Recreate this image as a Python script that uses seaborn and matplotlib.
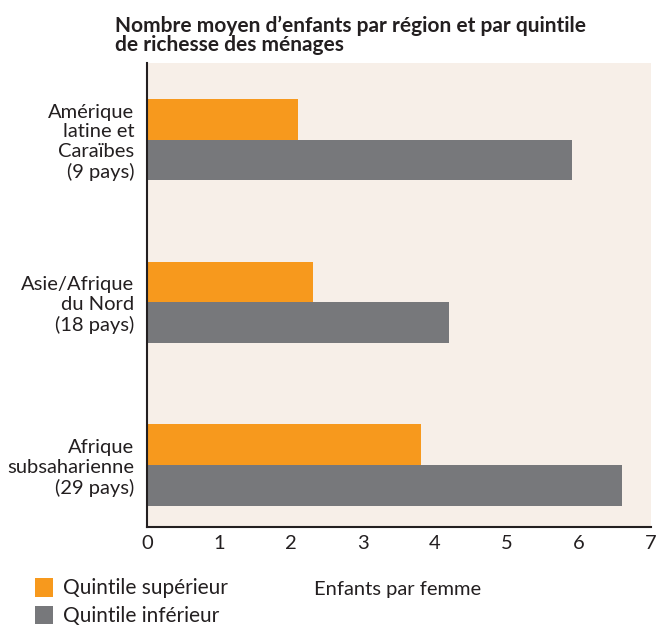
import numpy as np
import pandas as pd
import matplotlib.pyplot as plt
import seaborn as sns
from matplotlib.patches import Patch

regions = ['Amérique\nlatine et\nCaraïbes\n(9 pays)',
           'Asie/Afrique\ndu Nord\n(18 pays)',
           'Afrique\nsubsaharienne\n(29 pays)']
quintiles = ['Quintile supérieur', 'Quintile inférieur']
top_q = [2.1, 2.3, 3.8]
bottom_q = [5.9, 4.2, 6.6]
colors = ['#F7991D', '#77787B']

df = pd.DataFrame({
    'region': regions * 2,
    'quintile': [quintiles[0]] * 3 + [quintiles[1]] * 3,
    'value': top_q + bottom_q,
})

sns.set_style('white')
plt.rcParams['font.family'] = ['Lato', 'DejaVu Sans']

fig = plt.figure(figsize=(6.57, 6.29), dpi=100)
ax = fig.add_axes([147/657, 1 - 527/629, (651 - 147)/657, (527 - 63)/629])
ax.set_facecolor('#F7EFE8')

sns.barplot(data=df, y='region', x='value', hue='quintile', palette=colors,
            orient='h', width=0.5, saturation=1, linewidth=0, ax=ax, legend=False)

ax.set_xlim(0, 7)
ax.set_ylim(2.38, -0.47)
ax.set_xticks(range(8))
ax.set_ylabel('')
ax.set_xlabel('')
ax.tick_params(axis='x', length=0, labelsize=14.5, colors='#231F20', pad=6)
ax.tick_params(axis='y', length=0, labelsize=14.5, colors='#231F20', pad=9)
for lab in ax.get_yticklabels():
    lab.set_horizontalalignment('right')
    lab.set_multialignment('right')
for s in ['top', 'right']:
    ax.spines[s].set_visible(False)
for s in ['left', 'bottom']:
    ax.spines[s].set_color('#231F20')
    ax.spines[s].set_linewidth(1.5)

fig.text(115/657, 1 - 16/629, "Nombre moyen d’enfants par région et par quintile\nde richesse des ménages",
         fontsize=15, fontweight='bold', color='#231F20', va='top', ha='left', linespacing=0.9)

fig.text(398/657, 1 - 590/629, 'Enfants par femme', fontsize=14.5,
         color='#231F20', ha='center', va='center')

handles = [Patch(facecolor=c, edgecolor='none') for c in colors]
leg = fig.legend(handles, quintiles, loc='upper left', bbox_to_anchor=(35/657, 1 - 578/629),
                 frameon=False, fontsize=15, handlelength=0.85, handleheight=1.0,
                 handletextpad=0.5, labelspacing=0.35, borderaxespad=0, borderpad=0)
for t in leg.get_texts():
    t.set_color('#231F20')

fig.savefig('out.png', dpi=100)
